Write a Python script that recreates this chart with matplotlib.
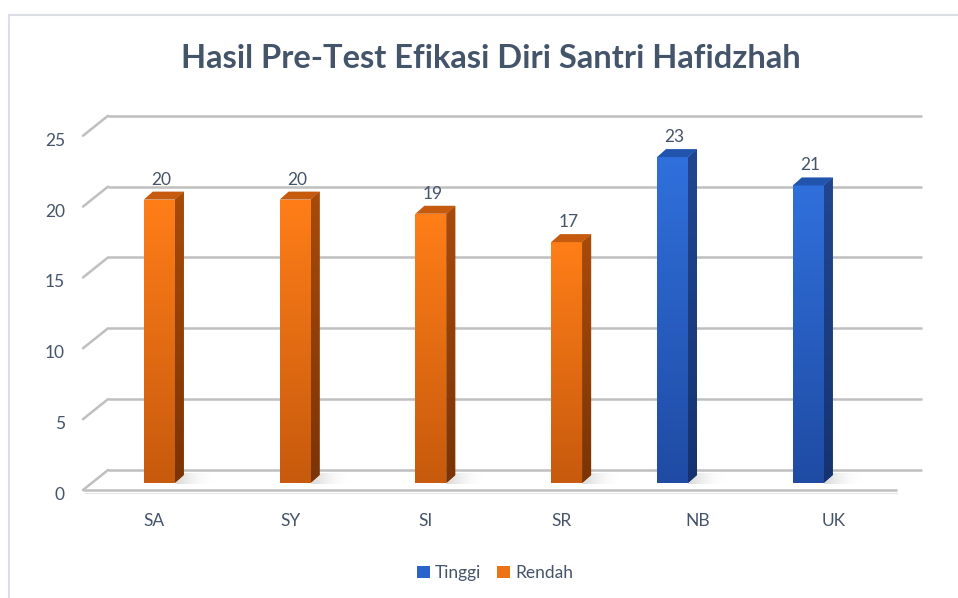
import matplotlib
matplotlib.use('Agg')
import matplotlib.pyplot as plt
import numpy as np
from matplotlib.patches import Polygon, Patch
from matplotlib.lines import Line2D
from matplotlib.colors import LinearSegmentedColormap

# ---------------- data ----------------
categories = ['SA', 'SY', 'SI', 'SR', 'NB', 'UK']
series_names = ['Tinggi', 'Rendah']
tinggi = [np.nan, np.nan, np.nan, np.nan, 23, 21]
rendah = [20, 20, 19, 17, np.nan, np.nan]
y_ticks = [0, 5, 10, 15, 20, 25]
title = 'Hasil Pre-Test Efikasi Diri Santri Hafidzhah'

# ---------------- layout / style ----------------
W, H = 958, 598
PX_CAT = 135.8      # pixels per category
X0_PX = 154.3       # pixel x of first category
PX_VAL = 14.17      # pixels per value unit
BASE_PX = 483       # pixel y (from top) of value 0 on bar plane

TXT = '#44546A'
GRID = '#BFBFBF'
FONT = 'Lato'
plt.rcParams['font.family'] = [FONT, 'DejaVu Sans']


def ux(px):
    return px / PX_CAT


def uy(px):
    return px / PX_VAL


fig = plt.figure(figsize=(W / 100, H / 100), dpi=100)
ax = fig.add_axes([0, 0, 1, 1])
xlim = ((0 - X0_PX) / PX_CAT, (W - X0_PX) / PX_CAT)
ylim = ((BASE_PX - H) / PX_VAL, BASE_PX / PX_VAL)
ax.set_axis_off()

# floor / walls geometry (pixel measurements converted to data units)
x_left_front = ux(83 - X0_PX)
x_right_front = ux(897 - X0_PX)
depth_dx, depth_dy = ux(25), uy(20)
y0_front = -uy(7)
y0_back = y0_front + depth_dy

# floor front edge
ax.plot([x_left_front, x_right_front], [y0_front, y0_front], color=GRID, lw=1.8,
        solid_capstyle='butt', zorder=1)
ax.plot([x_left_front + ux(2), x_right_front], [y0_front - uy(3), y0_front - uy(3)],
        color='#E6E6E6', lw=0.8, zorder=1)

for v in y_ticks:
    ax.plot([x_left_front + depth_dx, x_right_front + depth_dx], [y0_back + v, y0_back + v],
            color=GRID, lw=1.8, solid_capstyle='butt', zorder=1)
    ax.plot([x_left_front, x_left_front + depth_dx], [y0_front + v, y0_back + v],
            color=GRID, lw=1.8, solid_capstyle='round', zorder=1)
    ax.text(ux(65 - X0_PX), y0_front + v - uy(5), str(v), ha='right', va='center',
            fontsize=12.5, color=TXT)

# bars
bar_w = ux(31)
offsets = {'Tinggi': ux(-25), 'Rendah': ux(5)}
bdx, bdy = ux(9), uy(8)
colors = {
    'Tinggi': dict(front=('#3070DC', '#1F4BA3'), side=('#214690', '#16336F'), top='#2253AD'),
    'Rendah': dict(front=('#FF7E18', '#C75A0D'), side=('#A84B0B', '#7A3406'), top='#C65B10'),
}
grad = np.linspace(0, 1, 256).reshape(-1, 1)
x = np.arange(len(categories))
shadow_cmap = LinearSegmentedColormap.from_list('sh', [(0.55, 0.55, 0.55, 0.35), (1, 1, 1, 0.0)])
shadow_grad = np.linspace(0, 1, 64).reshape(1, -1)

for name, vals in zip(series_names, [tinggi, rendah]):
    c = colors[name]
    bars = ax.bar(x + offsets[name], vals, width=bar_w, color=c['front'][0],
                  edgecolor='none', zorder=3)
    cmap_f = LinearSegmentedColormap.from_list('f', [c['front'][1], c['front'][0]])
    cmap_s = LinearSegmentedColormap.from_list('s', [c['side'][1], c['side'][0]])
    for rect, val in zip(bars, vals):
        if np.isnan(val):
            continue
        x0 = rect.get_x()
        x1 = x0 + rect.get_width()
        h = rect.get_height()
        im = ax.imshow(grad, extent=[x0, x1, 0, h], origin='lower', aspect='auto',
                       cmap=cmap_f, zorder=3.1)
        im.set_clip_path(rect)
        # soft floor shadow
        sh = Polygon([(x1, -uy(1)), (x1 + ux(40), -uy(1)), (x1 + ux(40), bdy + uy(2)),
                      (x1 + bdx, bdy + uy(2))],
                     closed=True, facecolor='none', edgecolor='none', zorder=2)
        ax.add_patch(sh)
        ims = ax.imshow(shadow_grad, extent=[x1, x1 + ux(40), -uy(1), bdy + uy(2)],
                        origin='lower', aspect='auto', cmap=shadow_cmap, zorder=2)
        ims.set_clip_path(sh)
        side = Polygon([(x1, 0), (x1 + bdx, bdy), (x1 + bdx, h + bdy), (x1, h)],
                       closed=True, facecolor=c['side'][0], edgecolor='none', zorder=3)
        ax.add_patch(side)
        im2 = ax.imshow(grad, extent=[x1, x1 + bdx, 0, h + bdy], origin='lower', aspect='auto',
                        cmap=cmap_s, zorder=3.1)
        im2.set_clip_path(side)
        top = Polygon([(x0, h), (x1, h), (x1 + bdx, h + bdy), (x0 + bdx, h + bdy)],
                      closed=True, facecolor=c['top'], edgecolor='none', zorder=3.2)
        ax.add_patch(top)
        ax.text((x0 + x1) / 2 + ux(2), h + uy(20), f'{int(val)}', ha='center', va='center',
                fontsize=12.5, color=TXT, zorder=4)

# category labels
for i, cat in enumerate(categories):
    ax.text(i, uy(BASE_PX - 521), cat, ha='center', va='center', fontsize=12.5, color=TXT)

ax.set_xlim(*xlim)
ax.set_ylim(*ylim)

# title
fig.text(491 / W, 1 - 58 / H, title, ha='center', va='center', fontsize=23.5,
         fontweight='bold', color=TXT)

# legend
handles = [Patch(facecolor='#2A63CB', edgecolor='none'),
           Patch(facecolor='#EE7316', edgecolor='none')]
leg = fig.legend(handles, series_names, loc='center', bbox_to_anchor=(495 / W, 1 - 573 / H),
                 ncol=2, frameon=False, fontsize=12.5, handlelength=0.75, handleheight=0.75,
                 handletextpad=0.3, columnspacing=0.9, labelcolor=TXT)

# chart border
fig.add_artist(Line2D([9 / W, 9 / W], [0, 1 - 15 / H], color='#DCE0E6', lw=1.5))
fig.add_artist(Line2D([9 / W, 1], [1 - 15 / H, 1 - 15 / H], color='#DCE0E6', lw=1.5))

fig.savefig('out.png', dpi=100)
